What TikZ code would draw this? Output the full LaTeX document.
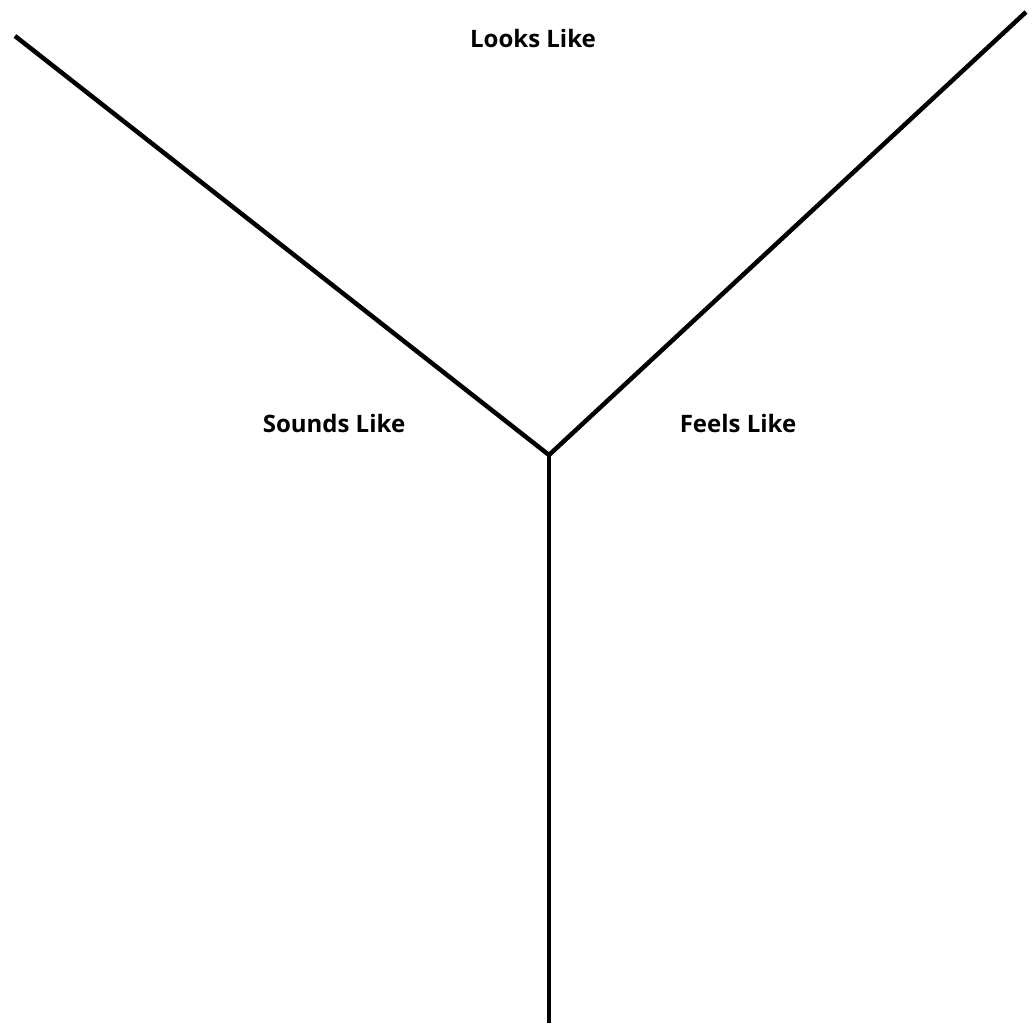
\documentclass[tikz,border=0pt]{standalone}
\usepackage{fontspec}
\setmainfont{Open Sans}
\usetikzlibrary{positioning}

\begin{document}
\begin{tikzpicture}[
  x=1pt, y=-1pt,
  arm/.style={line width=4.5pt, black},
  tag/.style={font=\bfseries\fontsize{24}{28}\selectfont, inner sep=0pt}
]
\useasboundingbox (0,0) rectangle (1033,1026);

\coordinate (hub) at (549,455);
\coordinate (topleft) at (15,36);
\coordinate (topright) at (1026,12);
\coordinate (foot) at (549,1023);

\draw[arm] (topleft) -- (hub) -- (topright);
\draw[arm] (hub) -- (foot);

\node[tag] (looks) at (533,38) {Looks Like};
\node[tag] (sounds) at (334,423) {Sounds Like};
\node[tag] (feels) at (738,423) {Feels Like};

\end{tikzpicture}
\end{document}
